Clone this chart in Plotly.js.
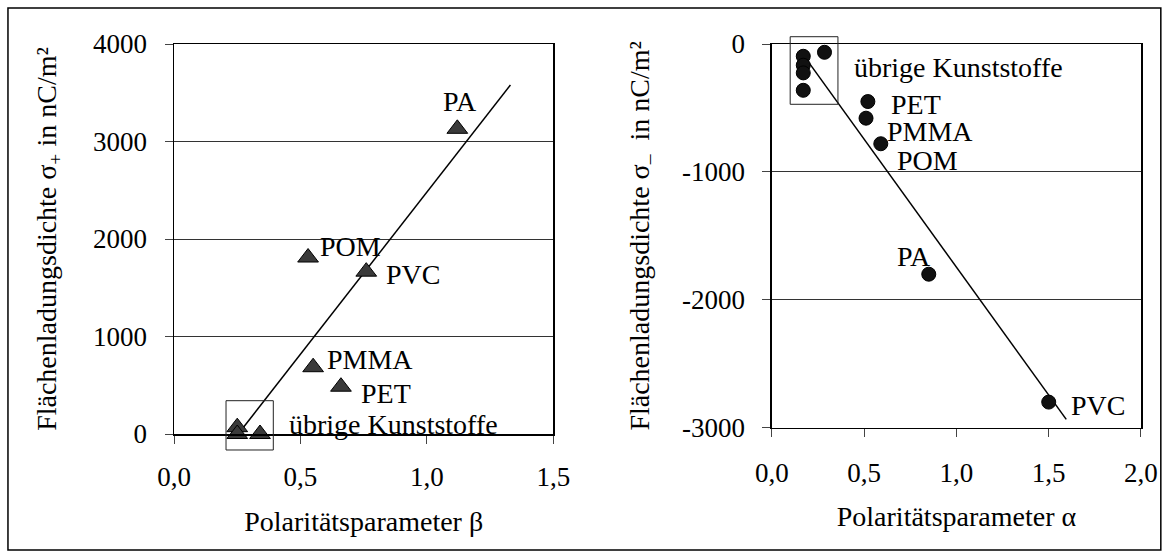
<!DOCTYPE html>
<html>
<head>
<meta charset="utf-8">
<script src="https://cdn.plot.ly/plotly-3.0.1.min.js"></script>
<style>
html,body{margin:0;padding:0;background:#fff;}
#chart{width:1169px;height:558px;}
</style>
</head>
<body>
<div id="chart"></div>
<script>
// ---- Left chart: positive charge density vs beta ----
const leftNames = ["PA", "POM", "PVC", "PMMA", "PET", "übrige", "übrige", "übrige", "übrige"];
const leftBeta = [1.12, 0.53, 0.76, 0.55, 0.66, 0.25, 0.25, 0.25, 0.34];
const leftSigma = [3130, 1810, 1665, 685, 485, 70, 0, -15, 0];
const leftFitBeta = [0.26, 1.33];
const leftFitSigma = [20, 3580];

// ---- Right chart: negative charge density vs alpha ----
const rightNames = ["übrige", "übrige", "übrige", "übrige", "übrige", "PET", "PMMA", "POM", "PA", "PVC"];
const rightAlpha = [0.17, 0.17, 0.17, 0.17, 0.285, 0.52, 0.51, 0.59, 0.85, 1.50];
const rightSigma = [-96, -166, -226, -362, -65, -450, -580, -780, -1800, -2800];
const rightFitAlpha = [0.18, 1.595];
const rightFitSigma = [-105, -2935];

// ---- Tick labels ----
const leftXTickVals = [0, 0.5, 1.0, 1.5];
const leftXTickText = ["0,0", "0,5", "1,0", "1,5"];
const leftYTickVals = [0, 1000, 2000, 3000, 4000];
const leftYTickText = ["0", "1000", "2000", "3000", "4000"];
const rightXTickVals = [0, 0.5, 1.0, 1.5, 2.0];
const rightXTickText = ["0,0", "0,5", "1,0", "1,5", "2,0"];
const rightYTickVals = [-3000, -2000, -1000, 0];
const rightYTickText = ["-3000", "-2000", "-1000", "0"];

const FONT = "Liberation Serif, Times New Roman, serif";

const traces = [
  {x: leftFitBeta, y: leftFitSigma, mode: "lines", line: {color: "#000", width: 1.5}, xaxis: "x", yaxis: "y", hoverinfo: "skip"},
  {x: leftBeta, y: leftSigma, text: leftNames, mode: "markers", cliponaxis: false,
   marker: {symbol: "triangle-up", size: 18, color: "#3a3a3a", line: {color: "#000", width: 1}}, xaxis: "x", yaxis: "y"},
  {x: rightFitAlpha, y: rightFitSigma, mode: "lines", line: {color: "#000", width: 1.5}, xaxis: "x2", yaxis: "y2", hoverinfo: "skip"},
  {x: rightAlpha, y: rightSigma, text: rightNames, mode: "markers", cliponaxis: false,
   marker: {symbol: "circle", size: 14, color: "#111", line: {color: "#000", width: 1}}, xaxis: "x2", yaxis: "y2"}
];

const axisCommon = {
  showline: true, linecolor: "#000", linewidth: 1.5, mirror: true,
  ticks: "outside", ticklen: 8, tickcolor: "#444", tickwidth: 1,
  zeroline: false, tickfont: {family: FONT, size: 27, color: "#000"}, fixedrange: true
};

function lab(text, x, y, xref, yref, anchor) {
  return {text: text, x: x, y: y, xref: xref, yref: yref, showarrow: false,
          xanchor: anchor || "left", yanchor: "middle", font: {family: FONT, size: 28, color: "#000"}};
}

const layout = {
  width: 1169, height: 558,
  margin: {l: 174, r: 28.3, t: 44, b: 124},
  paper_bgcolor: "#fff", plot_bgcolor: "#fff",
  showlegend: false,
  font: {family: FONT, color: "#000"},
  xaxis: Object.assign({}, axisCommon, {
    domain: [0, 0.3924], range: [0, 1.5], anchor: "y",
    tickvals: leftXTickVals, ticktext: leftXTickText, showgrid: false, ticklabelstandoff: 10,
    title: {text: "Polaritätsparameter β", font: {family: FONT, size: 28, color: "#000"}, standoff: 20}
  }),
  yaxis: Object.assign({}, axisCommon, {
    domain: [0, 1], range: [0, 4000], anchor: "x",
    tickvals: leftYTickVals, ticktext: leftYTickText, showgrid: true, gridcolor: "#333", gridwidth: 1,
    ticklabelstandoff: 12,
    title: {text: "Flächenladungsdichte σ<sub>+</sub> in nC/m²", font: {family: FONT, size: 28, color: "#000"}, standoff: 28}
  }),
  xaxis2: Object.assign({}, axisCommon, {
    domain: [0.6183, 1], range: [0, 2], anchor: "y2",
    tickvals: rightXTickVals, ticktext: rightXTickText, showgrid: false, ticklabelstandoff: 12,
    title: {text: "Polaritätsparameter α", font: {family: FONT, size: 28, color: "#000"}, standoff: 20}
  }),
  yaxis2: Object.assign({}, axisCommon, {
    domain: [0.0162, 1], range: [-3000, 0], anchor: "x2",
    tickvals: rightYTickVals, ticktext: rightYTickText, showgrid: true, gridcolor: "#333", gridwidth: 1,
    ticklabelstandoff: 12,
    title: {text: "Flächenladungsdichte σ<sub>–</sub>  in nC/m²", font: {family: FONT, size: 28, color: "#000"}, standoff: 24}
  }),
  shapes: [
    {type: "rect", xref: "paper", yref: "paper", x0: -0.1717, x1: 1.0205, y0: -0.2974, y1: 1.0923,
     line: {color: "#000", width: 1.5}},
    {type: "rect", xref: "paper", yref: "paper", x0: 0.0538, x1: 0.1027, y0: -0.041, y1: 0.0854,
     line: {color: "#222", width: 1}},
    {type: "rect", xref: "paper", yref: "paper", x0: 0.6372, x1: 0.6866, y0: 0.8454, y1: 1.0187,
     line: {color: "#222", width: 1}}
  ],
  annotations: [
    lab("PA", 1.131, 3408, "x", "y", "center"),
    lab("POM", 0.571, 1921, "x", "y"),
    lab("PVC", 0.83, 1641, "x", "y"),
    lab("PMMA", 0.597, 765, "x", "y"),
    lab("PET", 0.731, 420, "x", "y"),
    lab("übrige Kunststoffe", 0.447, 100, "x", "y"),
    lab("übrige Kunststoffe", 0.434, -180, "x2", "y2"),
    lab("PET", 0.632, -470, "x2", "y2"),
    lab("PMMA", 0.614, -685, "x2", "y2"),
    lab("POM", 0.669, -912, "x2", "y2"),
    lab("PA", 0.669, -1659, "x2", "y2"),
    lab("PVC", 1.608, -2823, "x2", "y2")
  ]
};

Plotly.newPlot("chart", traces, layout, {staticPlot: true, displayModeBar: false});
</script>
</body>
</html>
